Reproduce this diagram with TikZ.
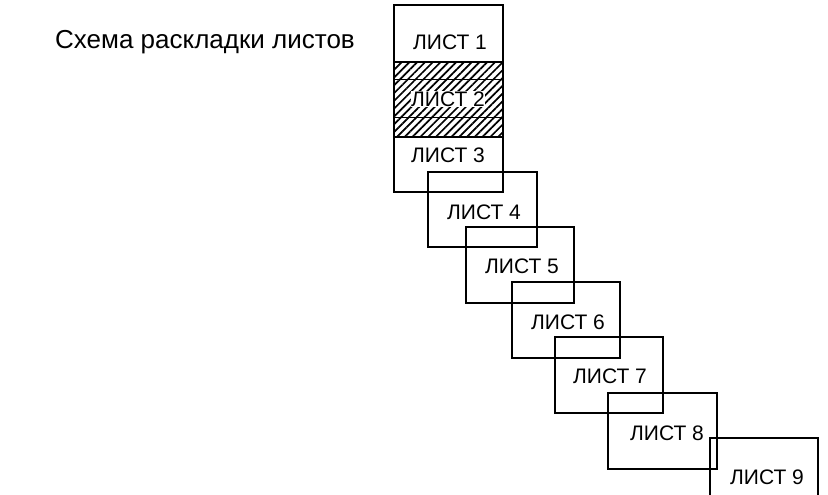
\documentclass[tikz,border=0pt]{standalone}
\usepackage{fontspec}
\setmainfont{Liberation Sans}
\usetikzlibrary{patterns.meta}
\begin{document}
\begin{tikzpicture}[x=1pt,y=-1pt,
  sheet/.style={draw=black,line width=1.3pt},
  lbl/.style={font=\fontsize{21}{23}\selectfont,inner sep=1pt},
  hatch/.style={pattern={Lines[angle=45,distance=5.5pt,line width=1.7pt]}}]
\useasboundingbox (0,0) rectangle (828,495);
\clip (0,0) rectangle (828,495);
\node[anchor=base west,font=\fontsize{26}{28}\selectfont,inner sep=0pt] (title) at (55,49) {Схема раскладки листов};
% big box with sheets 1-3
\path[hatch] (394,62) rectangle (503,137);
\draw[line width=1.8pt] (394,62) -- (503,62);
\draw[line width=1.8pt] (394,137) -- (503,137);
\draw[line width=1pt] (394,80) -- (503,80);
\draw[line width=1pt] (394,117) -- (503,117);
\draw[sheet] (394,5) rectangle (503,192);
\node[lbl] (l1) at (450,42) {ЛИСТ 1};
\node[lbl,fill=white,inner sep=0.5pt] (l2) at (448,99) {ЛИСТ 2};
\node[lbl] (l3) at (448,155) {ЛИСТ 3};
% other sheets
\draw[sheet] (428,172) rectangle (537,247);
\node[lbl] (l4) at (484,212) {ЛИСТ 4};
\draw[sheet] (466,227) rectangle (574,303);
\node[lbl] (l5) at (522,266) {ЛИСТ 5};
\draw[sheet] (512,282) rectangle (620,358);
\node[lbl] (l6) at (568,322) {ЛИСТ 6};
\draw[sheet] (555,337) rectangle (663,413);
\node[lbl] (l7) at (610,376) {ЛИСТ 7};
\draw[sheet] (608,393) rectangle (717,469);
\node[lbl] (l8) at (667,433) {ЛИСТ 8};
\draw[sheet] (710,438) rectangle (818,520);
\node[lbl] (l9) at (767,477) {ЛИСТ 9};
\end{tikzpicture}
\end{document}
